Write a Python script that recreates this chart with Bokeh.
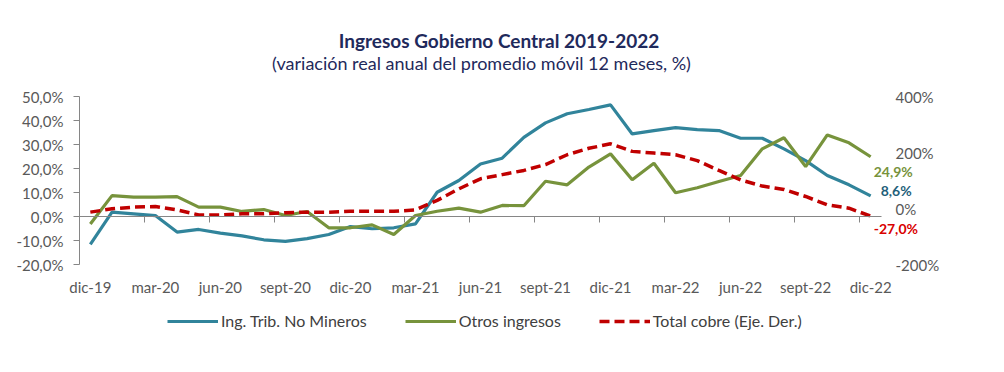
from bokeh.plotting import figure
from bokeh.models import (Range1d, LinearAxis, FixedTicker, Legend, LegendItem,
                          Label)
from bokeh.embed import file_html
from bokeh.resources import INLINE

# ---------------- data ----------------
months = ["dic-19", "ene-20", "feb-20", "mar-20", "abr-20", "may-20", "jun-20",
          "jul-20", "ago-20", "sept-20", "oct-20", "nov-20", "dic-20",
          "ene-21", "feb-21", "mar-21", "abr-21", "may-21", "jun-21",
          "jul-21", "ago-21", "sept-21", "oct-21", "nov-21", "dic-21",
          "ene-22", "feb-22", "mar-22", "abr-22", "may-22", "jun-22",
          "jul-22", "ago-22", "sept-22", "oct-22", "nov-22", "dic-22"]

ing_trib = [-11.6, 1.8, 1.1, 0.4, -6.5, -5.4, -6.9, -8.1, -9.7, -10.4, -9.2,
            -7.5, -4.2, -5.1, -4.7, -3.1, 10.1, 15.0, 21.9, 24.3, 33.0, 39.0,
            42.8, 44.6, 46.5, 34.4, 35.8, 37.0, 36.2, 35.8, 32.6, 32.6, 28.2,
            23.3, 17.1, 13.2, 8.6]

otros = [-3.1, 8.7, 8.1, 8.1, 8.3, 3.9, 3.9, 2.1, 2.9, 0.4, 2.1, -4.7, -4.7,
         -3.5, -7.5, 0.4, 2.2, 3.5, 1.8, 4.6, 4.5, 14.7, 13.2, 20.6, 26.1,
         15.3, 22.2, 9.9, 12.0, 14.6, 17.1, 28.2, 32.8, 20.8, 34.0, 30.7,
         24.9]

cobre = [-13, -1, 5, 7, -5, -23, -23, -19, -19, -15, -13, -13, -10, -10, -10,
         -5, 29, 70, 106, 121, 136, 157, 192, 215, 231, 204, 198, 192, 171,
         136, 102, 80, 68, 43, 13, 1, -27.0]

left_ticks = [-20, -10, 0, 10, 20, 30, 40, 50]
right_ticks = [-200, 0, 200, 400]
label_every = 3

title_text = "Ingresos Gobierno Central 2019-2022"
subtitle_text = "(variación real anual del promedio móvil 12 meses, %)"
series_names = ["Ing. Trib. No Mineros", "Otros ingresos",
                "Total cobre (Eje. Der.)"]

x = list(range(len(months)))

FONT = "Lato"
AX_COLOR = "#595959"
LINE_AX = "#868686"
BLUE = "#31849B"
GREEN = "#77933C"
RED = "#C00000"
NAVY = "#1F2A5C"

# ---------------- layout (pixels) ----------------
W, H = 1004, 372
PLOT_L, PLOT_R = 79, 881          # category area
FRAME_L, FRAME_T, FRAME_R, FRAME_B = 66, 10, 944, 336
AX_T, AX_B = 96, 264              # value area (left/right scales)
n_cat = len(months)
px_per = (PLOT_R - PLOT_L) / n_cat
x_start = -0.5
x_edge = n_cat - 0.5

ly0, ly1 = left_ticks[0], left_ticks[-1]
lpx = (AX_B - AX_T) / (ly1 - ly0)
ry0, ry1 = right_ticks[0], right_ticks[-1]
rpx = (AX_B - AX_T) / (ry1 - ry0)

p = figure(width=W, height=H, output_backend="svg", toolbar_location=None,
           x_range=Range1d(x_start - (PLOT_L - FRAME_L) / px_per,
                           x_edge + (FRAME_R - PLOT_R) / px_per),
           y_range=Range1d(ly0 - (FRAME_B - AX_B) / lpx,
                           ly1 + (AX_T - FRAME_T) / lpx),
           x_axis_location=None, y_axis_location=None, title=None,
           min_border_left=FRAME_L, min_border_right=W - FRAME_R,
           min_border_top=FRAME_T, min_border_bottom=H - FRAME_B)
p.outline_line_color = None
p.background_fill_color = None
p.border_fill_color = "white"
p.xgrid.visible = False
p.ygrid.visible = False

p.extra_y_ranges = {"right": Range1d(ry0 - (FRAME_B - AX_B) / rpx,
                                     ry1 + (AX_T - FRAME_T) / rpx)}

# titles (screen units relative to the frame's bottom-left)
p.add_layout(Label(x=498.5 - FRAME_L, y=FRAME_B - 40, x_units="screen",
                   y_units="screen", text=title_text, text_align="center",
                   text_baseline="middle", text_font=FONT,
                   text_font_size="19px", text_font_style="bold",
                   text_color=NAVY))
p.add_layout(Label(x=481 - FRAME_L, y=FRAME_B - 62, x_units="screen",
                   y_units="screen", text=subtitle_text, text_align="center",
                   text_baseline="middle", text_font=FONT,
                   text_font_size="18px", text_color=NAVY))

# left axis labels
yl = LinearAxis(ticker=FixedTicker(ticks=left_ticks),
                major_label_overrides={t: f"{t},0%" for t in left_ticks})
yl.axis_line_color = None
yl.major_tick_line_color = None
yl.minor_tick_line_color = None
yl.major_tick_out = 0
yl.major_tick_in = 0
yl.major_label_standoff = 3
yl.major_label_text_font = FONT
yl.major_label_text_font_size = "15px"
yl.major_label_text_color = AX_COLOR
p.add_layout(yl, "left")

# left axis line and ticks, at the left edge of the category area
yl2 = LinearAxis(ticker=FixedTicker(ticks=left_ticks), fixed_location=x_start,
                 bounds=(ly0, ly1),
                 major_label_overrides={t: "" for t in left_ticks})
yl2.axis_line_color = LINE_AX
yl2.major_tick_line_color = LINE_AX
yl2.major_tick_out = 6
yl2.major_tick_in = 0
yl2.minor_tick_line_color = None
yl2.major_label_standoff = 0
yl2.major_label_text_font_size = "0px"
p.add_layout(yl2, "left")

# right axis, drawn at the right edge of the category area
yr = LinearAxis(y_range_name="right", ticker=FixedTicker(ticks=right_ticks),
                fixed_location=x_edge,
                major_label_overrides={t: f"{t}%" for t in right_ticks})
yr.axis_line_color = None
yr.major_tick_line_color = None
yr.minor_tick_line_color = None
yr.major_tick_out = 0
yr.major_tick_in = 0
yr.major_label_standoff = 14
yr.major_label_text_font = FONT
yr.major_label_text_font_size = "15px"
yr.major_label_text_color = AX_COLOR
p.add_layout(yr, "right")

# horizontal category axis drawn at zero, ticks (pointing down) at category boundaries
bound_ticks = [i + label_every - 0.5 for i in range(0, n_cat - 1, label_every)]
xz = LinearAxis(ticker=FixedTicker(ticks=bound_ticks), fixed_location=0,
                bounds=(x_start, x_edge),
                major_label_overrides={t: "" for t in bound_ticks})
xz.axis_line_color = LINE_AX
xz.major_tick_line_color = LINE_AX
xz.major_tick_out = 0
xz.major_tick_in = 6
xz.minor_tick_line_color = None
xz.major_label_standoff = 0
xz.major_label_text_font_size = "0px"
p.add_layout(xz, "above")

# category labels under the value area
lab_ticks = list(range(0, n_cat, label_every))
xl = LinearAxis(ticker=FixedTicker(ticks=lab_ticks), fixed_location=ly0,
                major_label_overrides={t: months[t] for t in lab_ticks})
xl.axis_line_color = None
xl.major_tick_line_color = None
xl.minor_tick_line_color = None
xl.major_tick_out = 0
xl.major_tick_in = 0
xl.major_label_standoff = 13
xl.major_label_text_font = FONT
xl.major_label_text_font_size = "15px"
xl.major_label_text_color = AX_COLOR
p.add_layout(xl, "below")

# series
r1 = p.line(x, ing_trib, line_color=BLUE, line_width=3.2)
r2 = p.line(x, otros, line_color=GREEN, line_width=3.2)
r3 = p.line(x, cobre, line_color=RED, line_width=3.5, line_dash="10 5",
            y_range_name="right")

legend = Legend(items=[LegendItem(label=series_names[0], renderers=[r1]),
                       LegendItem(label=series_names[1], renderers=[r2]),
                       LegendItem(label=series_names[2], renderers=[r3])],
                location=(167 - FRAME_L, 6), orientation="horizontal",
                glyph_width=51, glyph_height=16, label_height=16,
                label_text_font=FONT, label_text_font_size="16px",
                label_text_color="#404040", background_fill_alpha=0,
                border_line_alpha=0, padding=0, margin=0,
                label_standoff=3, spacing=38)
p.add_layout(legend, "center")


def fmt(v):
    return f"{v:.1f}".replace(".", ",") + "%"


n = n_cat - 1
common = dict(text_baseline="middle", text_font=FONT, text_font_size="14px",
              text_font_style="bold")
p.add_layout(Label(x=n, y=otros[-1], text=fmt(otros[-1]), x_offset=3,
                   y_offset=-15, text_color=GREEN, **common))
p.add_layout(Label(x=n, y=ing_trib[-1], text=fmt(ing_trib[-1]), x_offset=10,
                   y_offset=5, text_color="#1F5F7A", **common))
p.add_layout(Label(x=n, y=cobre[-1], y_range_name="right",
                   text=fmt(cobre[-1]), x_offset=3, y_offset=-12,
                   text_color="#D90000", **common))

open("out.html", "w").write(file_html(p, INLINE))
